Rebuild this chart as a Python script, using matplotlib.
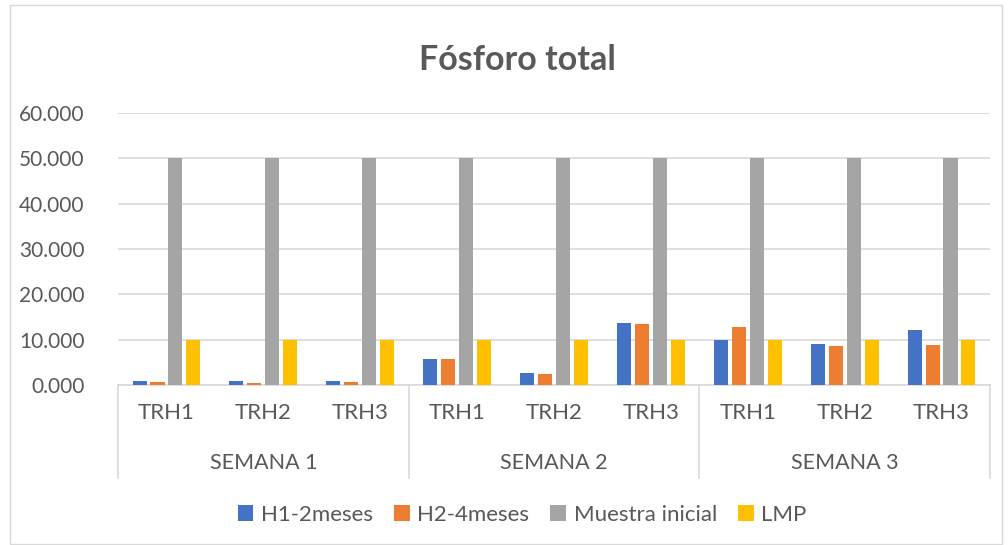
import matplotlib.pyplot as plt
from matplotlib.patches import Rectangle
import numpy as np

plt.rcParams['font.family'] = ['Lato', 'DejaVu Sans']

semanas = ["SEMANA 1", "SEMANA 2", "SEMANA 3"]
trh = ["TRH1", "TRH2", "TRH3"]
series = ["H1-2meses", "H2-4meses", "Muestra inicial", "LMP"]
h1 = [0.8, 0.8, 0.9, 5.75, 2.65, 13.6, 10.0, 9.15, 12.2]
h2 = [0.7, 0.4, 0.7, 5.7, 2.35, 13.4, 12.9, 8.55, 8.85]
muestra = [50.0] * 9
lmp = [10.0] * 9
colors = ["#4472C4", "#ED7D31", "#A5A5A5", "#FFC000"]
values = [h1, h2, muestra, lmp]

fig = plt.figure(figsize=(10.08, 5.45), dpi=100)
ax = fig.add_axes([118 / 1008, 1 - 385 / 545, 872 / 1008, 272 / 545])

x = np.arange(9)
w = 0.145
step = 0.185
for i, (vals, c, name) in enumerate(zip(values, colors, series)):
    ax.bar(x + (i - 1.5) * step, vals, width=w, color=c, label=name, zorder=3)

ax.set_xlim(-0.5, 8.5)
ax.set_ylim(0, 60)
ax.set_yticks(np.arange(0, 61, 10))
ax.set_yticklabels([f"{v:.3f}" for v in range(0, 61, 10)], fontsize=15, color="#595959")
ax.yaxis.grid(True, color="#D9D9D9", linewidth=1.2, zorder=0)
for s in ["top", "right", "left"]:
    ax.spines[s].set_visible(False)
ax.spines["bottom"].set_color("#D9D9D9")
ax.spines["bottom"].set_linewidth(1.2)
ax.tick_params(axis="y", length=0, pad=24)
ax.tick_params(axis="x", length=0, pad=13)
ax.set_xticks(x)
ax.set_xticklabels(trh * 3, fontsize=16, color="#595959")

# group labels and separators below the axis
trans = ax.get_xaxis_transform()
depth = -93 / 272
for b in [-0.5, 2.5, 5.5, 8.5]:
    ax.plot([b, b], [0, depth], transform=trans, color="#D9D9D9", lw=1.2, clip_on=False)
for g, name in enumerate(semanas):
    ax.text(g * 3 + 1, -78 / 272, name, transform=trans, ha="center", va="center",
            fontsize=15.5, color="#595959")

fig.suptitle("Fósforo total", x=0.513, y=1 - 60 / 545, va="center",
             fontsize=24.5, fontweight="bold", color="#595959")

ax.legend(loc="center", bbox_to_anchor=(0.518, 1 - 515 / 545), bbox_transform=fig.transFigure,
          ncol=4, frameon=False, fontsize=16, handlelength=0.7, handleheight=0.7,
          handletextpad=0.35, columnspacing=0.95, labelcolor="#595959")

fig.patches.append(Rectangle((10 / 1008, 0.002), 1 - 16 / 1008, 1 - 6 / 545,
                             transform=fig.transFigure, fill=False,
                             edgecolor="#D9D9D9", lw=1))

fig.savefig("out.png", dpi=100)
